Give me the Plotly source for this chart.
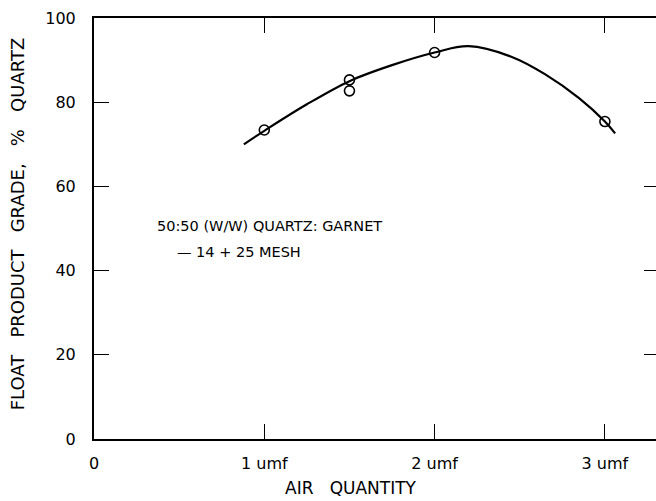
import plotly.graph_objects as go

# Measured points
pts_x = [1.0, 1.5, 1.5, 2.0, 3.0]
pts_y = [73.4, 85.3, 82.7, 91.8, 75.4]

# Smooth fitted curve
curve_x = [0.88, 1.0, 1.25, 1.5, 1.75, 2.0, 2.2, 2.45, 2.65, 2.85, 3.0, 3.06]
curve_y = [70.0, 73.2, 79.5, 85.0, 88.8, 91.8, 93.3, 90.8, 86.6, 80.9, 75.4, 72.6]

x_tickvals = [0, 1, 2, 3]
x_ticktext = ["0", "1 umf", "2 umf", "3 umf"]
y_tickvals = [0, 20, 40, 60, 80, 100]

FONT = "DejaVu Sans"
NB = "\u00a0"

y_title = (NB * 3).join(["FLOAT", "PRODUCT", "GRADE,", "%", "QUARTZ"])
x_title = (NB * 3).join(["AIR", "QUANTITY"])

fig = go.Figure()
fig.add_trace(go.Scatter(x=curve_x, y=curve_y, mode="lines",
                         line=dict(color="black", width=2.2, shape="spline", smoothing=1.0),
                         showlegend=False, hoverinfo="skip"))
fig.add_trace(go.Scatter(x=pts_x, y=pts_y, mode="markers",
                         marker=dict(symbol="circle-open", size=10, color="black",
                                     line=dict(width=1.6, color="black")),
                         showlegend=False))
# invisible trace for right-side ticks
fig.add_trace(go.Scatter(x=[0], y=[0], yaxis="y2", mode="markers",
                         marker=dict(opacity=0), showlegend=False, hoverinfo="skip"))

W = 661  # plot frame's right edge falls just past the 656 px window, as in the scan
fig.update_layout(
    width=W, height=501,
    margin=dict(l=94, r=0, t=18, b=62, autoexpand=False),
    paper_bgcolor="white", plot_bgcolor="white",
    font=dict(family=FONT, size=14, color="black"),
    xaxis=dict(range=[0, (W - 94) / 170.3], tickvals=x_tickvals, ticktext=x_ticktext,
               showline=True, linecolor="black", linewidth=2, mirror="ticks",
               ticks="inside", ticklen=15, tickwidth=1.3, tickcolor="black",
               showgrid=False, zeroline=False, ticklabelstandoff=9, automargin=False,
               tickfont=dict(family=FONT, size=16)),
    yaxis=dict(range=[0, 100], tickvals=y_tickvals,
               showline=True, linecolor="black", linewidth=2,
               ticks="inside", ticklen=15, tickwidth=1.3, tickcolor="black",
               showgrid=False, zeroline=False, ticklabelstandoff=13, automargin=False,
               tickfont=dict(family=FONT, size=16)),
    yaxis2=dict(range=[0, 100], overlaying="y", side="right", tickvals=y_tickvals,
                showticklabels=False, showline=False, ticks="inside", ticklen=17,
                tickwidth=1.3, tickcolor="black", showgrid=False, zeroline=False,
                automargin=False),
    annotations=[
        dict(text="50:50 (W/W) QUARTZ: GARNET", x=0.358, y=50.6, xref="x", yref="y",
             xanchor="left", yanchor="middle", showarrow=False,
             font=dict(family=FONT, size=14.5)),
        dict(text="— 14 + 25 MESH", x=0.476, y=44.4, xref="x", yref="y",
             xanchor="left", yanchor="middle", showarrow=False,
             font=dict(family=FONT, size=14.5)),
        dict(text=y_title, x=(17 - 94) / (W - 94), y=0.51, xref="paper", yref="paper",
             xanchor="center", yanchor="middle", textangle=-90, showarrow=False,
             font=dict(family=FONT, size=18)),
        dict(text=x_title, x=(351 - 94) / (W - 94), y=-0.117, xref="paper", yref="paper",
             xanchor="center", yanchor="middle", showarrow=False,
             font=dict(family=FONT, size=17)),
    ],
)

fig.write_html(
    "out.html",
    config={"displayModeBar": False},
    post_script="document.body.style.margin='0';document.body.style.overflow='hidden';",
)
